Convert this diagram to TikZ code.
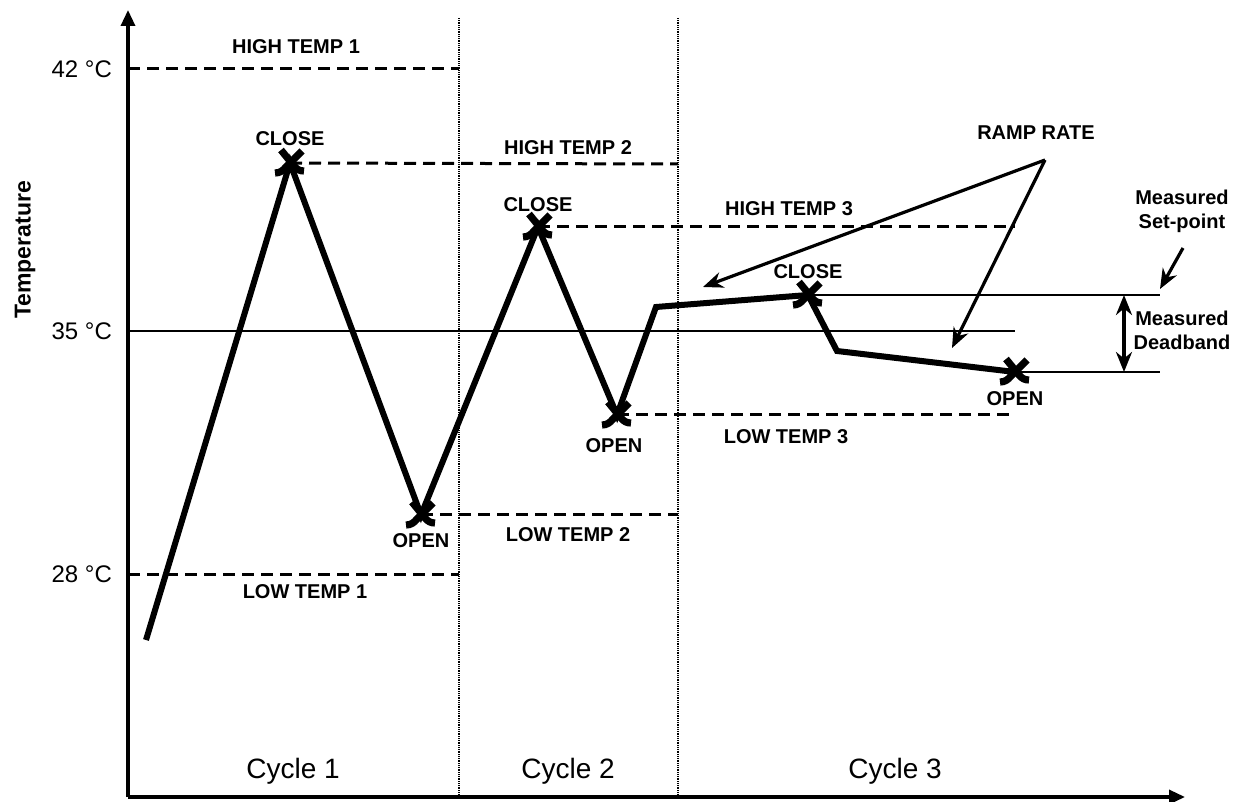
\documentclass[tikz,border=0pt]{standalone}
\usepackage{fontspec}
\setmainfont{Liberation Sans}
\usetikzlibrary{arrows.meta}

\tikzset{
  lbl/.style={font=\bfseries\fontsize{10}{12}\selectfont, align=center},
  degree/.style={font=\fontsize{12}{14}\selectfont, anchor=east},
  cyclelbl/.style={font=\fontsize{14}{16}\selectfont},
  axis/.style={line width=1.7pt, -{Triangle[length=8pt,width=7pt]}},
  limit/.style={line width=1.5pt, dash pattern=on 6pt off 3.5pt},
  divider/.style={line width=1.4pt, dash pattern=on 0.45pt off 0.45pt},
  thin line/.style={line width=0.9pt},
  trace/.style={line width=3pt, line join=miter},
  pointer/.style={line width=1.6pt, -{Stealth[length=10pt,width=8pt]}},
  xcross/.style={line width=3.6pt, line cap=butt}
}

% the X marker at a switching point
\newcommand{\switchmark}[1]{
  \draw[xcross] ([shift={(-9,-13)}]#1) -- ([shift={(4,3)}]#1) to[out=-50,in=180] ([shift={(14,8)}]#1);
  \draw[xcross] ([shift={(12,-12)}]#1) -- ([shift={(-4,4)}]#1) to[out=-130,in=0] ([shift={(-15,10)}]#1);
}

\begin{document}
\begin{tikzpicture}[x=0.5pt,y=-0.5pt]
  \useasboundingbox (0,0) rectangle (1233,802);

  % axes
  \coordinate (origin) at (128,797);
  \coordinate (ytop) at (128,10);
  \coordinate (xend) at (1185,797);
  \draw[axis] (origin) -- (ytop);
  \draw[axis] (origin) -- (xend);
  \node[font=\bfseries\fontsize{11.5}{13}\selectfont, rotate=90] (ylabel) at (25,250) {Temperature};

  \node[degree] (t42) at (119,69) {42 °C};
  \node[degree] (t35) at (119,331) {35 °C};
  \node[degree] (t28) at (119,574) {28 °C};

  % cycle dividers
  \coordinate (d1top) at (459,18);
  \coordinate (d1bot) at (459,797);
  \coordinate (d2top) at (678,18);
  \coordinate (d2bot) at (678,797);
  \draw[divider] (d1top) -- (d1bot);
  \draw[divider] (d2top) -- (d2bot);

  \node[cyclelbl] (cyc1) at (293,771) {Cycle 1};
  \node[cyclelbl] (cyc2) at (568,771) {Cycle 2};
  \node[cyclelbl] (cyc3) at (895,771) {Cycle 3};

  % temperature trace
  \coordinate (p0) at (146,640);
  \coordinate (close1) at (290,163);
  \coordinate (open1) at (421,515);
  \coordinate (close2) at (538,227);
  \coordinate (open2) at (617,415);
  \coordinate (knee) at (656,307);
  \coordinate (close3) at (808,295);
  \coordinate (drop) at (837,351);
  \coordinate (open3) at (1015,372);

  % set-point and limits
  \draw[thin line] (128,331) -- (1015,331);
  \draw[limit] (128,69) -- (459,69);
  \draw[limit] (128,574) -- (459,574);
  \draw[limit] (close1) -- (678,164);
  \draw[limit] (open1) -- (678,515);
  \draw[limit] (close2) -- (1015,227);
  \draw[limit] (open2) -- (1015,415);
  \draw[thin line] (close3) -- (1160,295);
  \draw[thin line] (open3) -- (1160,372);

  \draw[trace] (p0) -- (close1) -- (open1) -- (close2) -- (open2) -- (knee) -- (close3) -- (drop) -- (open3);

  \switchmark{close1}
  \switchmark{open1}
  \switchmark{close2}
  \switchmark{open2}
  \switchmark{close3}
  \switchmark{open3}

  \node[lbl] (ht1) at (296,47) {HIGH TEMP 1};
  \node[lbl] (lt1) at (305,592) {LOW TEMP 1};
  \node[lbl] (ht2) at (568,148) {HIGH TEMP 2};
  \node[lbl] (lt2) at (568,535) {LOW TEMP 2};
  \node[lbl] (ht3) at (789,209) {HIGH TEMP 3};
  \node[lbl] (lt3) at (786,437) {LOW TEMP 3};

  \node[lbl] (cl1) at (290,139) {CLOSE};
  \node[lbl] (cl2) at (538,205) {CLOSE};
  \node[lbl] (cl3) at (808,272) {CLOSE};
  \node[lbl] (op1) at (421,541) {OPEN};
  \node[lbl] (op2) at (614,446) {OPEN};
  \node[lbl] (op3) at (1015,399) {OPEN};

  % ramp rate pointers
  \node[lbl] (ramp) at (1036,133) {RAMP RATE};
  \coordinate (rampfoot) at (1045,160);
  \coordinate (rampa) at (703,287);
  \coordinate (rampb) at (952,348);
  \draw[pointer] (rampfoot) -- (rampa);
  \draw[pointer] (rampfoot) -- (rampb);

  % measured set-point and deadband
  \node[lbl] (msp) at (1182,211) {Measured\\Set-point};
  \coordinate (mspfrom) at (1183,248);
  \coordinate (mspto) at (1160,289);
  \draw[pointer] (mspfrom) -- (mspto);

  \coordinate (dbtop) at (1124,295);
  \coordinate (dbbot) at (1124,372);
  \draw[line width=1.6pt, {Stealth[length=10pt,width=8pt]}-{Stealth[length=10pt,width=8pt]}] (dbtop) -- (dbbot);
  \node[lbl] (mdb) at (1182,330) {Measured\\Deadband};
\end{tikzpicture}
\end{document}
